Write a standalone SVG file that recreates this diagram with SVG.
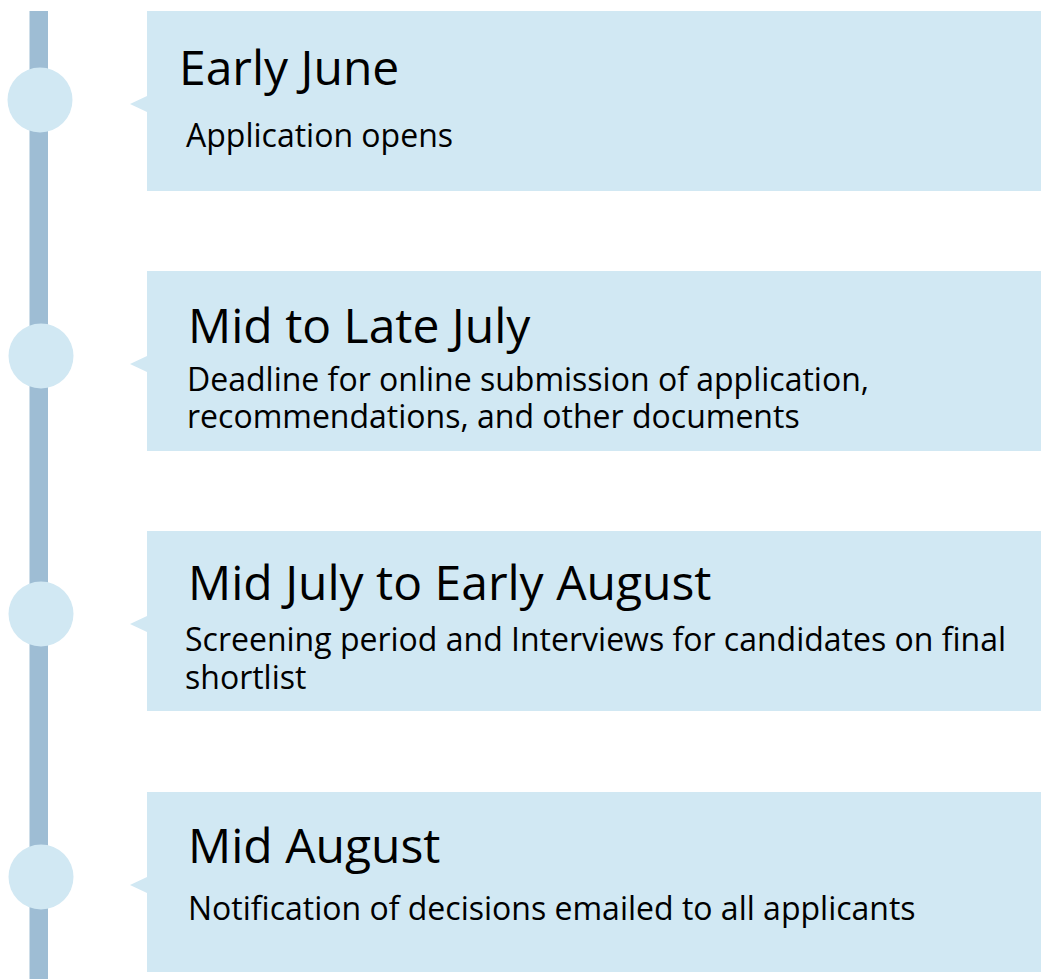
<svg xmlns="http://www.w3.org/2000/svg" width="1041" height="979" viewBox="0 0 1041 979">
<style>
.box{fill:#d1e8f3}
.dot{fill:#d1e8f3}
.line{fill:#9ebdd4}
.t{font-family:"Open Sans","Noto Sans",sans-serif;fill:#000}
.h{font-size:48px}
.s{font-size:32px}
</style>
<rect width="1041" height="979" fill="#fff"/>
<g id="connectors">
<rect class="line" x="29.5" y="11" width="18.5" height="968"/>
</g>
<g id="node1">
<circle class="dot" cx="40" cy="100" r="32.5"/>
<rect class="box" x="147" y="11" width="894" height="180"/>
<polygon class="box" points="130,104 147,96 147,112"/>
<text class="t h" x="179" y="85">Early June</text>
<text class="t s" x="186" y="147">Application opens</text>
</g>
<g id="node2">
<circle class="dot" cx="41" cy="356" r="32.5"/>
<rect class="box" x="147" y="271" width="894" height="180"/>
<polygon class="box" points="130,364 147,356 147,372"/>
<text class="t h" x="188" y="343">Mid to Late July</text>
<text class="t s" x="187" y="391">Deadline for online submission of application,</text>
<text class="t s" x="187" y="428">recommendations, and other documents</text>
</g>
<g id="node3">
<circle class="dot" cx="41" cy="614" r="32.5"/>
<rect class="box" x="147" y="531" width="894" height="180"/>
<polygon class="box" points="130,624 147,616 147,632"/>
<text class="t h" x="188" y="600">Mid July to Early August</text>
<text class="t s" x="185" y="651">Screening period and Interviews for candidates on final</text>
<text class="t s" x="185" y="689">shortlist</text>
</g>
<g id="node4">
<circle class="dot" cx="41" cy="877" r="32.5"/>
<rect class="box" x="147" y="792" width="894" height="180"/>
<polygon class="box" points="130,885 147,877 147,893"/>
<text class="t h" x="188" y="863">Mid August</text>
<text class="t s" x="188" y="920">Notification of decisions emailed to all applicants</text>
</g>
</svg>
